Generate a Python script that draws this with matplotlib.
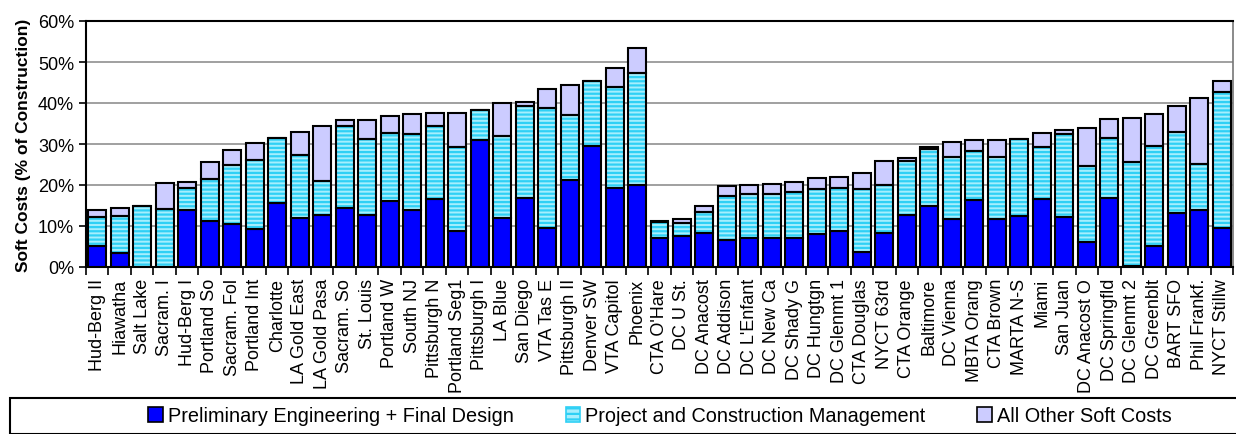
import matplotlib
matplotlib.use("Agg")
import matplotlib.pyplot as plt
from matplotlib.patches import Patch, Rectangle
from matplotlib.ticker import FuncFormatter, FixedLocator
import numpy as np

plt.rcParams['font.family'] = ['Liberation Sans', 'DejaVu Sans']
plt.rcParams['hatch.linewidth'] = 1.6

categories = ["Hud-Berg II", "Hiawatha", "Salt Lake", "Sacram. I", "Hud-Berg I", "Portland So",
              "Sacram. Fol", "Portland Int", "Charlotte", "LA Gold East", "LA Gold Pasa",
              "Sacram. So", "St. Louis", "Portland W", "South NJ", "Pittsburgh N", "Portland Seg1",
              "Pittsburgh I", "LA Blue", "San Diego", "VTA Tas E", "Pittsburgh II", "Denver SW",
              "VTA Capitol", "Phoenix", "CTA O'Hare", "DC U St.", "DC Anacost", "DC Addison",
              "DC L'Enfant", "DC New Ca", "DC Shady G", "DC Hungtgn", "DC Glenmt 1", "CTA Douglas",
              "NYCT 63rd", "CTA Orange", "Baltimore", "DC Vienna", "MBTA Orang", "CTA Brown",
              "MARTA N-S", "Miami", "San Juan", "DC Anacost O", "DC Springfld", "DC Glenmt 2",
              "DC Greenblt", "BART SFO", "Phil Frankf.", "NYCT Stillw"]

# cumulative tops (% of construction)
pe_fd = [5.2, 3.5, 0.0, 0.0, 13.9, 11.2, 10.5, 9.2, 15.7, 11.9, 12.7, 14.4, 12.8, 16.1, 13.9,
         16.5, 8.8, 30.9, 12.0, 16.8, 9.5, 21.3, 29.6, 19.2, 19.9, 7.1, 7.5, 8.3, 6.6, 7.1,
         7.1, 7.1, 8.0, 8.7, 3.7, 8.3, 12.7, 14.9, 11.6, 16.4, 11.6, 12.5, 16.5, 12.2, 6.2,
         16.8, 0.3, 5.1, 13.1, 13.9, 9.4]
pcm_top = [12.1, 12.5, 14.9, 14.1, 19.2, 21.4, 24.9, 26.1, 31.5, 27.3, 20.9, 34.4, 31.1, 32.7, 32.4,
           34.5, 29.2, 38.4, 31.9, 39.3, 38.7, 37.0, 45.4, 44.0, 47.3, 11.0, 10.7, 13.5, 17.4, 17.8,
           17.8, 18.4, 19.1, 19.3, 19.1, 20.0, 25.8, 28.9, 26.8, 28.4, 26.9, 31.1, 29.3, 32.4, 24.7,
           31.5, 25.6, 29.4, 32.9, 25.1, 42.7]
total_top = [14.0, 14.5, 14.9, 20.4, 20.8, 25.5, 28.6, 30.3, 31.5, 32.9, 34.4, 35.8, 35.8, 36.8, 37.4,
             37.6, 37.6, 38.4, 40.0, 40.2, 43.3, 44.4, 45.4, 48.6, 53.5, 11.3, 11.7, 14.9, 19.8, 20.1,
             20.2, 20.8, 21.6, 22.0, 23.0, 25.8, 26.7, 29.2, 30.5, 30.9, 30.9, 31.3, 32.7, 33.5, 33.8,
             36.0, 36.3, 37.2, 39.3, 41.3, 45.3]

series_names = ["Preliminary Engineering + Final Design",
                "Project and Construction Management",
                "All Other Soft Costs"]

pe = np.array(pe_fd)
pcm = np.array(pcm_top) - pe
oth = np.array(total_top) - np.array(pcm_top)

fig = plt.figure(figsize=(12.36, 4.35), dpi=100)
ax = fig.add_axes([86/1236, 1-268/435, (1233-86)/1236, (268-22)/435])

x = np.arange(len(categories))
w = 0.8
blue = '#0000FF'
cyan_face = '#A6EEFD'
cyan_hatch = '#2FD0F5'
lav = '#CCCCFF'

ax.bar(x, pe, w, color=blue, edgecolor='black', linewidth=1.5, zorder=3)
ax.bar(x, pcm, w, bottom=pe, color=cyan_face, edgecolor=cyan_hatch, hatch='----',
       linewidth=0, zorder=3)
ax.bar(x, pcm, w, bottom=pe, fill=False, edgecolor='black', linewidth=1.5, zorder=4)
ax.bar(x, oth, w, bottom=np.array(pcm_top), color=lav, edgecolor='black', linewidth=1.5, zorder=3)

ax.set_xlim(-0.5, len(categories) - 0.5)
ax.set_ylim(0, 60)
ax.set_yticks(np.arange(0, 61, 10))
ax.yaxis.set_major_formatter(FuncFormatter(lambda v, p: f"{int(v)}%"))
ax.yaxis.grid(True, color='#999999', linewidth=1.3, zorder=0)
ax.set_axisbelow(True)

ax.set_xticks(x)
ax.set_xticklabels(categories, rotation=90, fontsize=13)
ax.tick_params(axis='x', which='major', direction='in', length=3, width=1.2, pad=8)
ax.xaxis.set_minor_locator(FixedLocator(np.arange(-0.5, len(categories), 1)))
ax.tick_params(axis='x', which='minor', direction='out', length=6, width=1.2)
ax.tick_params(axis='y', labelsize=13, length=5, width=1.2, direction='out')

for s in ['left', 'bottom', 'top']:
    ax.spines[s].set_color('black')
    ax.spines[s].set_linewidth(1.5)
ax.spines['right'].set_color('#777777')
ax.spines['right'].set_linewidth(1.2)

ax.set_ylabel("Soft Costs (% of Construction)", fontsize=12.5, fontweight='bold', labelpad=5)

# legend box across the bottom
fig.patches.append(Rectangle((10/1236, 0.0), 1.0, (435-399)/435, transform=fig.transFigure,
                             fill=False, edgecolor='black', linewidth=1.5))
handles = [Patch(facecolor=blue, edgecolor='black', linewidth=1.2),
           Patch(facecolor=cyan_face, edgecolor=cyan_hatch, hatch='---', linewidth=1.2),
           Patch(facecolor=lav, edgecolor='black', linewidth=1.2)]
leg = fig.legend(handles, series_names, loc='center', bbox_to_anchor=(660/1236, (435-417)/435),
                 ncol=3, frameon=False, fontsize=14.3, handlelength=0.75, handleheight=0.75,
                 handletextpad=0.25, columnspacing=2.6, borderaxespad=0)

fig.savefig("out.png", dpi=100)
